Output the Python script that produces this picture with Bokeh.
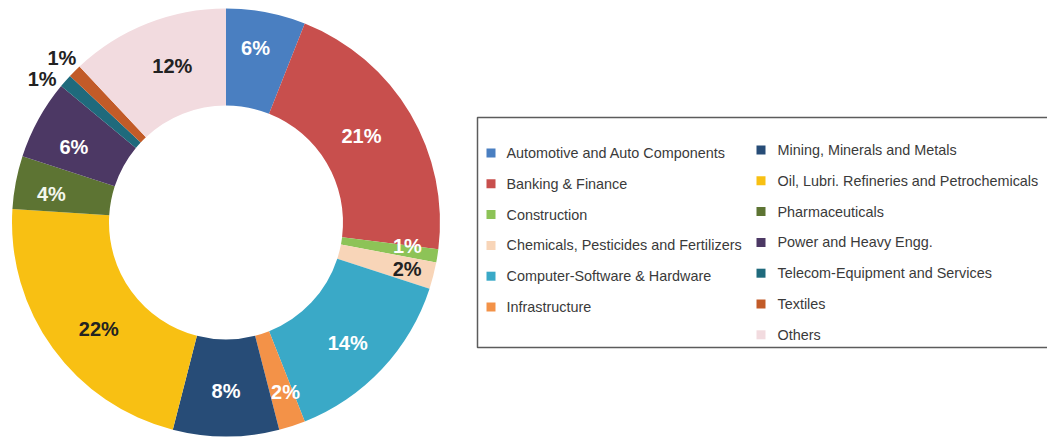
import math

from bokeh.core.properties import value
from bokeh.embed import file_html
from bokeh.models import Range1d
from bokeh.plotting import figure
from bokeh.resources import INLINE

# Sector shares of inflows (percent)
sectors = [
    "Automotive and Auto Components",
    "Banking & Finance",
    "Construction",
    "Chemicals, Pesticides and Fertilizers",
    "Computer-Software & Hardware",
    "Infrastructure",
    "Mining, Minerals and Metals",
    "Oil, Lubri. Refineries and Petrochemicals",
    "Pharmaceuticals",
    "Power and Heavy Engg.",
    "Telecom-Equipment and Services",
    "Textiles",
    "Others",
]
shares = [6, 21, 1, 2, 14, 2, 8, 22, 4, 6, 1, 1, 12]
share_labels = [f"{s}%" for s in shares]

colors = [
    "#4a7fc1", "#c84f4d", "#8dc357", "#f8d5b8", "#3aa9c7", "#f39248",
    "#274c77", "#f8c013", "#5d7433", "#4c3864", "#1f6a7c", "#c25b28",
    "#f2dbdf",
]
label_colors = [
    "#ffffff", "#ffffff", "#ffffff", "#222222", "#ffffff", "#ffffff",
    "#ffffff", "#222222", "#f4f7ee", "#ffffff", "#222222", "#222222",
    "#222222",
]
# label placement: radius from centre and small angular nudge (degrees, clockwise)
label_radius = [177, 161, 183, 187, 171, 180, 168, 166, 177, 170, 233, 232, 165]
label_nudge = [-1.2, -2.1, -1.5, 0, 1.4, -1.3, 0, -4.0, -1.4, -2.3, -3.5, 0, 2.6]

W, H = 1047, 438

p = figure(
    width=W, height=H,
    x_range=Range1d(0, W), y_range=Range1d(0, H),
    x_axis_location=None, y_axis_location=None,
    output_backend="svg", toolbar_location=None, min_border=0,
)
p.grid.visible = False
p.outline_line_color = None
p.background_fill_color = "white"
p.border_fill_color = "white"

# Donut ring, clockwise from 12 o'clock
cx, cy = 225.5, H - 222
r_in, r_out = 117, 214
total = sum(shares)
starts, ends, lx, ly = [], [], [], []
cum = 0
for i, s in enumerate(shares):
    a_top = math.pi / 2 - 2 * math.pi * cum / total
    mid = cum + s / 2
    cum += s
    a_bot = math.pi / 2 - 2 * math.pi * cum / total
    starts.append(a_bot)
    ends.append(a_top)
    am = math.pi / 2 - 2 * math.pi * mid / total - math.radians(label_nudge[i])
    lx.append(cx + label_radius[i] * math.cos(am))
    ly.append(cy + label_radius[i] * math.sin(am))

p.annular_wedge(
    x=cx, y=cy, inner_radius=r_in, outer_radius=r_out,
    start_angle=starts, end_angle=ends,
    fill_color=colors, line_color=None,
)

p.text(
    x=lx, y=ly, text=share_labels, text_color=label_colors,
    text_font=value("Liberation Sans"), text_font_size="20px",
    text_font_style="bold", text_align="center", text_baseline="middle",
)

# Legend: framed box, two columns
p.quad(left=477, right=W + 20, top=H - 117, bottom=H - 347,
       fill_color=None, line_color="#5c5c5c", line_width=1.5)

col_split = 6
sq_x, txt_x, row_y = [], [], []
for i in range(len(sectors)):
    if i < col_split:
        sq_x.append(490.5)
        txt_x.append(506)
        row_y.append(H - (152.5 + 30.8 * i))
    else:
        sq_x.append(760.5)
        txt_x.append(777)
        row_y.append(H - (149.5 + 30.8 * (i - col_split)))

p.rect(x=sq_x, y=row_y, width=9, height=9, fill_color=colors, line_color=None)
p.text(
    x=txt_x, y=row_y, text=sectors, text_color="#3a3a3a",
    text_font=value("Liberation Sans"), text_font_size="14.4px",
    text_align="left", text_baseline="middle",
)

open("out.html", "w").write(file_html(p, INLINE))
